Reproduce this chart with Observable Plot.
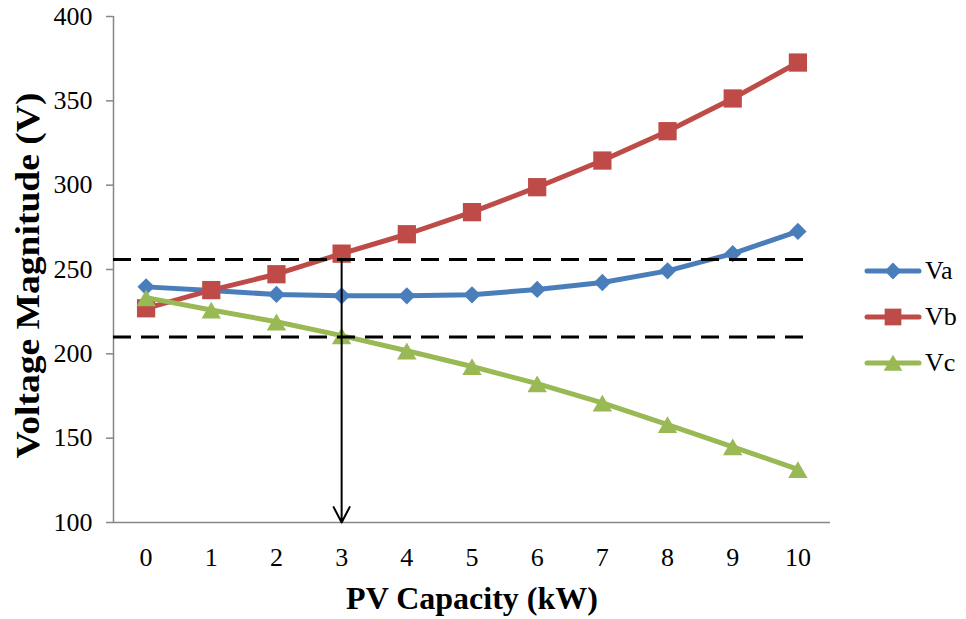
<!DOCTYPE html>
<html>
<head>
<meta charset="utf-8">
<script src="https://cdn.jsdelivr.net/npm/d3@7"></script>
<script src="https://cdn.jsdelivr.net/npm/@observablehq/plot@0.6"></script>
</head>
<body style="margin:0;background:#fff">
<div id="wrap" style="position:relative;width:966px;height:619px;font-family:'Liberation Serif'"></div>
<script>
// ---- data ----
const capacity = [0, 1, 2, 3, 4, 5, 6, 7, 8, 9, 10];
const Va = [239.7, 237.5, 235.2, 234.4, 234.4, 235.0, 238.2, 242.3, 249.2, 259.4, 272.6];
const Vb = [227.0, 237.8, 247.2, 259.4, 270.9, 284.0, 298.8, 314.6, 332.0, 351.4, 372.7];
const Vc = [233.3, 226.0, 219.0, 210.8, 201.8, 192.5, 182.3, 170.9, 158.1, 144.9, 131.5];
const seriesNames = ["Va", "Vb", "Vc"];
const seriesColors = ["#4A7EBB", "#BE4B48", "#98B954"];
const seriesSymbols = ["diamond2", "square", "triangle"];
const limits = [256, 210];
const limitSpan = [-0.5, 10.17];
const marker = {x: 3, from: 256, to: 100};
const yTicks = [100, 150, 200, 250, 300, 350, 400];
const xDomain = [-0.5, 10.5];
const xTitle = "PV Capacity (kW)";
const yTitle = "Voltage Magnitude (V)";

const seriesValues = [Va, Vb, Vc];
const rows = seriesNames.map((name, i) => capacity.map((c, j) => ({cap: c, v: seriesValues[i][j], name})));
const gray = "#868686";
const FONT = "Liberation Serif";
const dotR = {diamond2: 7.8, square: 10.3, triangle: 7.2};

const marks = [
  Plot.ruleY([100], {stroke: gray, strokeWidth: 1.5}),
  Plot.ruleX([xDomain[0]], {stroke: gray, strokeWidth: 1.5}),
  Plot.axisY({ticks: yTicks, tickSize: 7, tickPadding: 14, stroke: gray, strokeWidth: 1.5, fontSize: 26, fontFamily: FONT, fill: "#000", label: null}),
  Plot.axisX({ticks: capacity, tickSize: 0, tickPadding: 25, fontSize: 26, fontFamily: FONT, fill: "#000", label: null, tickFormat: d => String(d)})
];
rows.forEach((data, i) => {
  marks.push(Plot.line(data, {x: "cap", y: "v", stroke: seriesColors[i], strokeWidth: 5, strokeLinejoin: "round"}));
  marks.push(Plot.dot(data, {x: "cap", y: "v", symbol: seriesSymbols[i], r: dotR[seriesSymbols[i]], fill: seriesColors[i], stroke: "none", dy: seriesSymbols[i] === "triangle" ? 3 : 0}));
});
marks.push(Plot.ruleY(limits, {x1: limitSpan[0], x2: limitSpan[1], stroke: "#000", strokeWidth: 3, strokeDasharray: "18,10"}));
marks.push(Plot.arrow([marker], {x1: "x", x2: "x", y1: "from", y2: "to", stroke: "#000", strokeWidth: 2, headLength: 13, headAngle: 55}));
marks.push(Plot.text([xTitle], {frameAnchor: "bottom", dy: 76, fontSize: 32, fontWeight: "bold", fontFamily: FONT, lineAnchor: "middle", textAnchor: "middle", fill: "#000"}));
marks.push(Plot.text([yTitle], {frameAnchor: "left", dx: -85, dy: 6, rotate: -90, fontSize: 33, fontWeight: "bold", fontFamily: FONT, lineAnchor: "middle", textAnchor: "middle", fill: "#000"}));

const chart = Plot.plot({
  width: 966, height: 619,
  marginLeft: 113, marginRight: 136, marginTop: 16, marginBottom: 97,
  style: `font-family: ${FONT}; background: #fff; overflow: visible;`,
  x: {domain: xDomain, axis: null},
  y: {domain: [100, 400], axis: null},
  marks
});
// stretch the rotated y title along its length to match the reference
chart.querySelectorAll("text").forEach(el => {
  if (el.textContent === yTitle) {
    el.setAttribute("textLength", "366");
    el.setAttribute("lengthAdjust", "spacingAndGlyphs");
  }
});
const wrap = document.getElementById("wrap");
wrap.appendChild(chart);

// legend (HTML overlay)
const legend = document.createElement("div");
legend.setAttribute("style", "position:absolute;left:864px;top:248px;font-family:'Liberation Serif'");
seriesNames.forEach((name, i) => {
  const item = document.createElement("div");
  item.setAttribute("style", "display:flex;align-items:center;height:46px;font-size:26px;color:#000;font-family:'Liberation Serif'");
  const sym = d3.symbol(seriesSymbols[i] === "diamond2" ? d3.symbolDiamond2 : seriesSymbols[i] === "square" ? d3.symbolSquare : d3.symbolTriangle,
    seriesSymbols[i] === "square" ? 280 : seriesSymbols[i] === "diamond2" ? 180 : 150)();
  const ty = seriesSymbols[i] === "triangle" ? 14.5 : 12;
  item.innerHTML = `<svg width="58" height="24" style="margin-right:3px"><line x1="3" x2="55" y1="12" y2="12" stroke="${seriesColors[i]}" stroke-width="5" stroke-linecap="round"/><path d="${sym}" transform="translate(29,${ty})" fill="${seriesColors[i]}"/></svg><span>${name}</span>`;
  legend.appendChild(item);
});
wrap.appendChild(legend);
</script>
</body>
</html>
